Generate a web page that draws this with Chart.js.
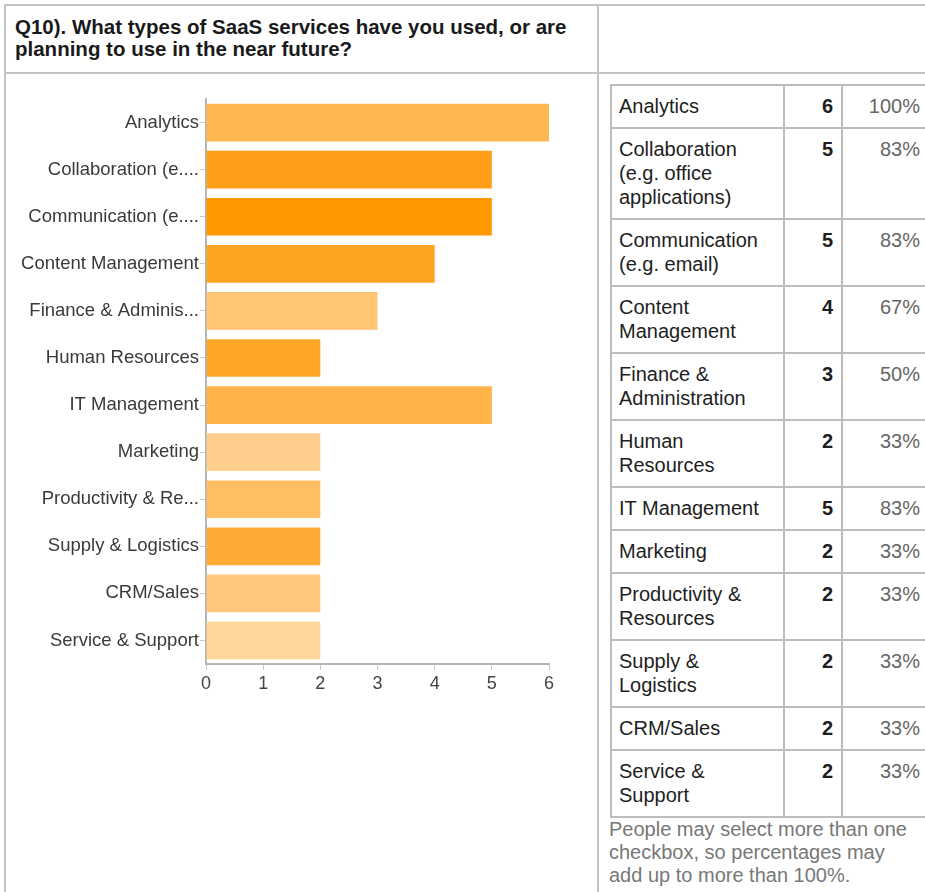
<!DOCTYPE html>
<html>
<head>
<meta charset="utf-8">
<script src="https://cdn.jsdelivr.net/npm/chart.js@4.4.1/dist/chart.umd.min.js"></script>
<style>
  html, body { margin: 0; padding: 0; }
  body {
    width: 925px; height: 892px; overflow: hidden; position: relative;
    background: #fff; font-family: "Liberation Sans", Arial, sans-serif;
  }
  .frame-top { position: absolute; left: 5px; top: 4px; width: 930px; height: 0; border-top: 2px solid #c4c4c4; }
  .frame-left { position: absolute; left: 4px; top: 4px; width: 0; height: 900px; border-left: 2px solid #c4c4c4; }
  .frame-head { position: absolute; left: 5px; top: 72px; width: 930px; height: 0; border-top: 2px solid #c4c4c4; }
  .frame-mid { position: absolute; left: 597px; top: 4px; width: 0; height: 900px; border-left: 2px solid #c4c4c4; }
  .title {
    position: absolute; left: 15px; top: 16px; width: 580px;
    font-weight: bold; font-size: 20.5px; line-height: 22px; color: #1a1a1a;
  }
  #chartBox { position: absolute; left: 7px; top: 75px; width: 590px; height: 640px; }
  .tableWrap { position: absolute; left: 610px; top: 84px; width: 340px; }
  table.results {
    table-layout: fixed; width: 318px;
    border-collapse: collapse; font-size: 20px; line-height: 24px; color: #1e1e1e;
  }
  table.results td {
    border: 2px solid #bdbdbd; padding: 8px 8px 9px 7px; vertical-align: top;
  }
  table.results td.count { text-align: right; font-weight: bold; }
  table.results td.pct { text-align: right; color: #666; }
  .note {
    position: absolute; left: 609px; top: 818px; width: 306px;
    font-size: 20px; line-height: 23px; color: #777;
  }
</style>
</head>
<body>
<div class="frame-top"></div>
<div class="frame-left"></div>
<div class="frame-head"></div>
<div class="frame-mid"></div>
<div class="title">Q10). What types of SaaS services have you used, or are planning to use in the near future?</div>
<div id="chartBox"><canvas id="myChart" width="590" height="640"></canvas></div>
<div class="tableWrap">
  <table class="results" id="results">
    <colgroup><col style="width:173px"><col style="width:58px"><col style="width:87px"></colgroup>
  </table>
</div>
<div class="note">People may select more than one checkbox, so percentages may add up to more than 100%.</div>

<script>
// survey answers
const categories = [
  "Analytics",
  "Collaboration (e.g. office applications)",
  "Communication (e.g. email)",
  "Content Management",
  "Finance & Administration",
  "Human Resources",
  "IT Management",
  "Marketing",
  "Productivity & Resources",
  "Supply & Logistics",
  "CRM/Sales",
  "Service & Support"
];
const tickLabels = [
  "Analytics",
  "Collaboration (e....",
  "Communication (e....",
  "Content Management",
  "Finance & Adminis...",
  "Human Resources",
  "IT Management",
  "Marketing",
  "Productivity & Re...",
  "Supply & Logistics",
  "CRM/Sales",
  "Service & Support"
];
const counts = [6, 5, 5, 4, 3, 2, 5, 2, 2, 2, 2, 2];
const percents = [100, 83, 83, 67, 50, 33, 83, 33, 33, 33, 33, 33];
const xTicks = [0, 1, 2, 3, 4, 5, 6];
const barColors = [
  "#ffb84f", "#ff9e18", "#ff9900", "#ffa420", "#ffc574", "#ffa628",
  "#ffb44a", "#ffcf8e", "#ffbe62", "#ffaa34", "#ffc87c", "#ffd599"
];

// table on the right
const table = document.getElementById("results");
categories.forEach((name, i) => {
  const tr = document.createElement("tr");
  tr.innerHTML =
    '<td class="name"></td><td class="count">' + counts[i] +
    '</td><td class="pct">' + percents[i] + '%</td>';
  tr.firstChild.textContent = name;
  table.appendChild(tr);
});

const axisColor = "#b5b5b5";
const tickColor = "#c8c8c8";
const labelFont = "'Liberation Sans', Arial, sans-serif";

new Chart(document.getElementById("myChart").getContext("2d"), {
  type: "bar",
  data: {
    labels: tickLabels,
    datasets: [{
      data: counts,
      backgroundColor: barColors,
      borderWidth: 0,
      barPercentage: 0.8,
      categoryPercentage: 1.0
    }]
  },
  options: {
    indexAxis: "y",
    responsive: false,
    animation: false,
    layout: { padding: { top: 24, left: 0, right: 48, bottom: 21 } },
    plugins: { legend: { display: false }, tooltip: { enabled: false } },
    scales: {
      x: {
        min: 0,
        max: 6,
        afterBuildTicks: (scale) => { scale.ticks = xTicks.map(v => ({ value: v })); },
        afterFit: (scale) => { scale.height = 30; },
        border: { display: true, color: axisColor, width: 2 },
        grid: { drawOnChartArea: false, drawTicks: true, tickLength: 6, color: tickColor },
        ticks: { color: "#444", padding: 3, font: { family: labelFont, size: 18 } }
      },
      y: {
        afterFit: (scale) => { scale.width = 199; },
        border: { display: true, color: axisColor, width: 2 },
        grid: { drawOnChartArea: false, offset: false, tickLength: 6, color: tickColor },
        ticks: { color: "#3a3a3a", padding: 1, autoSkip: false, font: { family: labelFont, size: 18.5 } }
      }
    }
  }
});
</script>
</body>
</html>
